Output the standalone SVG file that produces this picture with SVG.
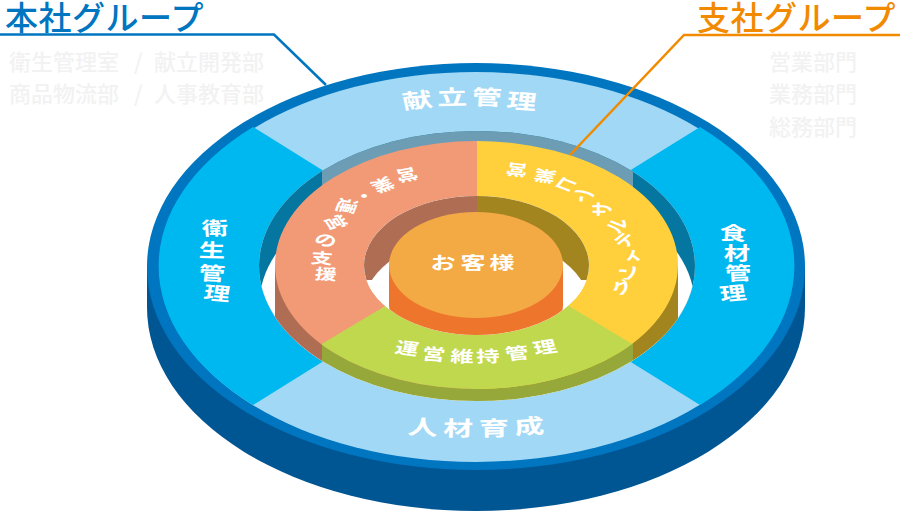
<svg xmlns="http://www.w3.org/2000/svg" width="900" height="511" viewBox="0 0 900 511">
<style>
text{font-family:"Noto Sans CJK JP","Noto Sans",sans-serif}
.w{fill:#fff;font-weight:700}
.r{font-size:23px}
.v{font-size:22px}
.c{font-size:20px}
.s{font-size:18px}
.m{font-size:20px}
.f{fill:#f2f2f2;font-size:22px;font-weight:500}
.h{font-size:33px;font-weight:500;letter-spacing:.5px}
.l{fill:none;stroke-width:2.5}
</style>
<defs>
<clipPath id="holeA"><ellipse cx="477" cy="266" rx="218" ry="135"/></clipPath>
<clipPath id="holeB"><ellipse cx="476.5" cy="265.5" rx="112.5" ry="69.5"/></clipPath>
<clipPath id="midFace"><path clip-rule="evenodd" d="M275 265a201.500 124 0 1 0 403 0a201.500 124 0 1 0-403 0zM364 265.500a112.500 69.500 0 1 0 225 0a112.500 69.500 0 1 0-225 0z"/></clipPath>
</defs>
<g id="outer-ring">
<path d="M147 266.500V307.500A329 203.500 0 0 0 805 307.500V266.500z" fill="#005593"/>
<ellipse cx="476" cy="266.500" rx="329" ry="203.500" fill="#0075c0"/>
<ellipse cx="476" cy="267" rx="316" ry="195" fill="#a0d8f5"/>
<path d="M253 405L476 266L253 127A316 195 0 0 0 253 405zM700 405L476 266L700 127A316 195 0 0 1 700 405z" fill="#00b8f0"/>
<ellipse cx="477" cy="266" rx="218" ry="135" fill="#fff"/>
<g clip-path="url(#holeA)">
<rect x="250" y="120" width="460" height="220" fill="#04769f"/>
<rect x="322" y="120" width="311" height="100" fill="#6d9db5"/>
<ellipse cx="477" cy="306" rx="218" ry="135" fill="#fff"/>
</g>
<text class="w r" transform="scale(1.3,.9)" x="310.6 336.5 362.8 389.1" y="121.3 116.9 116.1 119.7" rotate="-8 -2 2 6">献立管理</text>
<text class="w r" transform="scale(1.3,.9)" x="313.3 340.7 368.7 396.1" y="482.3 484.1 484.5 482.8" rotate="4 1 -1 -4">人材育成</text>
<text class="w v" transform="scale(1.2,.85)" x="168.6 165.4 165.1 168.9" y="277.1 302.1 328.8 351.7" rotate="-3 2 4 7">衛生管理</text>
<text class="w v" transform="scale(1.2,.85)" x="599.4 603.2 604.5 600.9" y="281.9 306 330.1 354.3" rotate="3 0 -3 -7">食材管理</text>
</g>
<g id="middle-ring">
<g clip-path="url(#holeA)">
<rect x="275" y="265" width="47" height="140" fill="#af6e54"/>
<rect x="322" y="300" width="311" height="110" fill="#97a83a"/>
<rect x="633" y="265" width="45" height="140" fill="#a3851f"/>
</g>
<g clip-path="url(#midFace)">
<rect x="270" y="135" width="207" height="270" fill="#f29a76"/>
<rect x="477" y="135" width="207" height="270" fill="#ffd03c"/>
<path d="M477 251L270 375V405H684V375z" fill="#c0d84e"/>
</g>
<ellipse cx="476.500" cy="265.500" rx="112.500" ry="69.500" fill="#fff"/>
<g clip-path="url(#holeB)">
<rect x="360" y="190" width="117" height="90" fill="#af6e54"/>
<rect x="477" y="190" width="117" height="90" fill="#a3851f"/>
<ellipse cx="476.500" cy="305.500" rx="112.500" ry="69.500" fill="#fff"/>
</g>
<text class="w c" transform="scale(1.1,.75)" x="377.700 353 331.500 310.700 294.300 283.900 282.100 285.800" y="223.300 235.100 248.700 263.100 290.200 321.600 350.700 372" rotate="165 150 130 105 65 30 5 5">営業・運営の支援</text>
<text class="w c" transform="scale(1.1,.75)" x="481 506.900 527 542 555 562.500 567.600 571.800 568 560.700" y="220.500 229.300 245.100 263.800 288.700 312.500 332.600 352.300 374.700 394.300" rotate="188 192 210 235 270 300 310 320 325 330">営業コンサルティング</text>
<text class="w s" transform="scale(1.3,.9)" x="303 324.100 346.200 366.600 389.700 411.800" y="391.900 399.200 402.100 402.800 400.200 394.200" rotate="10 6 2 -2 -8 -12">運営維持管理</text>
</g>
<g id="core">
<g clip-path="url(#holeB)">
<path d="M389 265V305A87 53 0 0 0 563 305V265z" fill="#ee762c"/>
</g>
<ellipse cx="476" cy="265" rx="87" ry="53" fill="#f3aa44"/>
<text class="w m" transform="scale(1.25,.85)" x="344.400 368.400 391.600" y="317">お客様</text>
</g>
<g id="connectors">
<path class="l" d="M0 34.500H274L326 85" stroke="#0075c0"/>
<path class="l" d="M900 35H684L570 155" stroke="#f28a00"/>
</g>
<g id="label-honsha"><text class="h" x="5" y="30" fill="#0075c0">本社グループ</text></g>
<g id="label-shisha"><text class="h" x="697" y="30" fill="#f28a00">支社グループ</text></g>
<g id="honsha-depts">
<text class="f" x="9" y="70">衛生管理室</text><text class="f" x="134" y="70">/</text><text class="f" x="154" y="70">献立開発部</text>
<text class="f" x="9" y="102">商品物流部</text><text class="f" x="134" y="102">/</text><text class="f" x="154" y="102">人事教育部</text>
</g>
<g id="shisha-depts">
<text class="f" x="769" y="70">営業部門</text><text class="f" x="769" y="102">業務部門</text><text class="f" x="769" y="135">総務部門</text>
</g>
</svg>
